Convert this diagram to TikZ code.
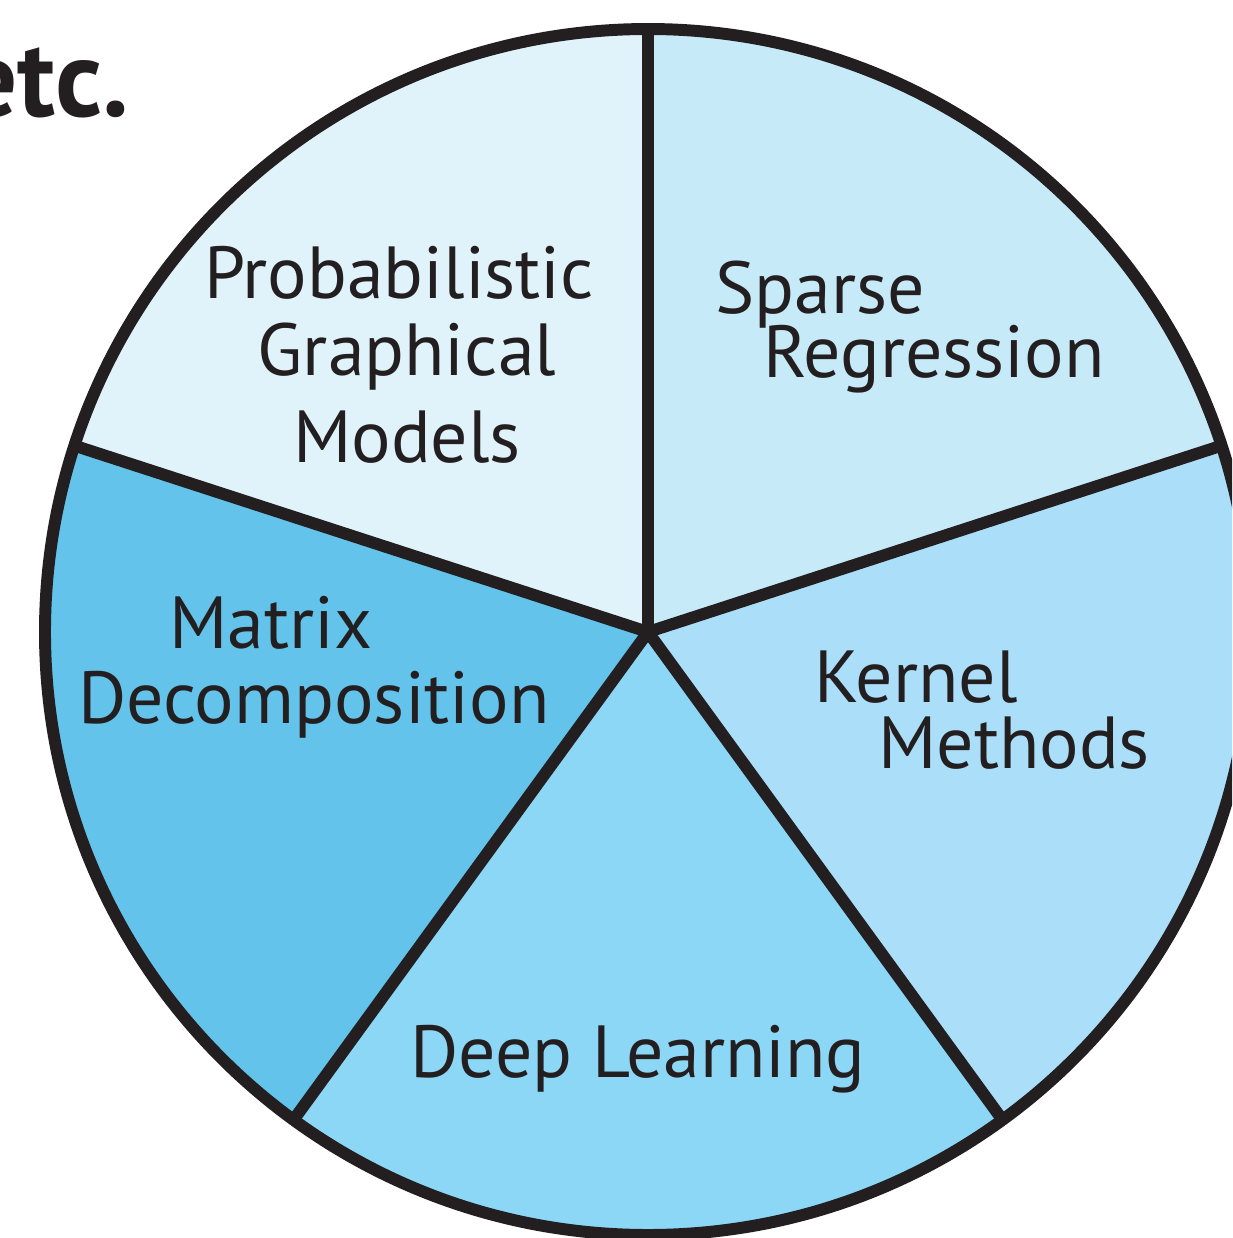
\documentclass[tikz,border=0pt]{standalone}
\usepackage{fontspec}
\setmainfont{PT Sans}
\usepackage{xcolor}
\usetikzlibrary{positioning,calc}

\definecolor{ink}{HTML}{231F20}
\definecolor{probcol}{HTML}{E0F3FB}
\definecolor{sparsecol}{HTML}{C7EAF9}
\definecolor{kernelcol}{HTML}{ABDFF9}
\definecolor{deepcol}{HTML}{8DD7F6}
\definecolor{matrixcol}{HTML}{63C3EA}

\begin{document}
\begin{tikzpicture}[pie line/.style={line width=3.4pt,draw=ink},label node/.style={anchor=base,inner sep=0pt,text=ink,font=\fontsize{21}{25}\selectfont}]

            \path[use as bounding box,clip] (-6.48,6.32) rectangle (5.84,-6.06);

            \coordinate (c) at (0,0);

            % the five slices
            \foreach \start/\col in {18/sparsecol,90/probcol,162/matrixcol,234/deepcol,306/kernelcol}{
                \fill[\col] (c) -- (\start:6.03) arc[start angle=\start,delta angle=72,radius=6.03] -- cycle;
            }

            \foreach \a in {18,90,162,234,306}{
                \draw[pie line] (c) -- (\a:6.03);
            }
            \draw[pie line] (c) circle (6.03);

            % labels
            \node[label node] (prob1) at (-2.49,3.34) {Probabilistic};
            \node[label node] (prob2) at (-2.41,2.57) {Graphical};
            \node[label node] (prob3) at (-2.41,1.70) {Models};

            \node[label node] (sparse1) at (1.72,3.19) {Sparse};
            \node[label node] (sparse2) at (2.86,2.55) {Regression};

            \node[label node] (kernel1) at (2.68,-0.70) {Kernel};
            \node[label node] (kernel2) at (3.66,-1.36) {Methods};

            \node[label node] (deep) at (-0.10,-4.45) {Deep Learning};

            \node[label node] (matrix1) at (-3.77,-0.16) {Matrix};
            \node[label node] (matrix2) at (-3.34,-0.91) {Decomposition};

            \node[label node,anchor=base east,font=\fontsize{31}{36}\selectfont\bfseries] (etc) at (-5.18,5.15) {etc.};

        \end{tikzpicture}
\end{document}
